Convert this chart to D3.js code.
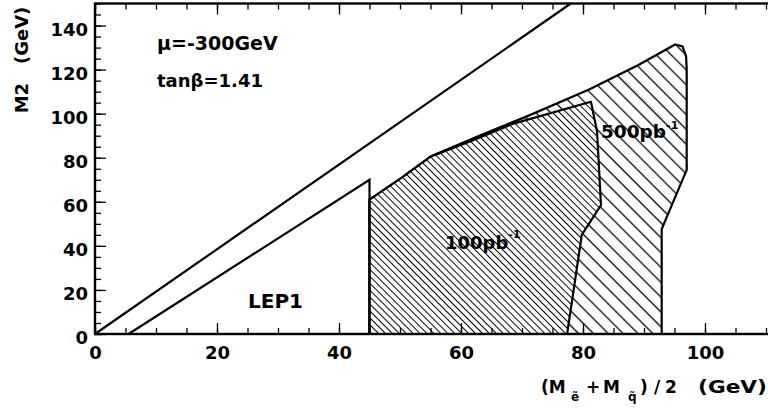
<!DOCTYPE html>
<html>
<head>
<meta charset="utf-8">
<script src="https://cdn.jsdelivr.net/npm/d3@7"></script>
<style>
  body { margin: 0; background: #fff; }
  svg text { font-family: "DejaVu Sans", sans-serif; font-weight: bold; fill: #000; }
  .axis .domain { display: none; }
  .axis line { stroke: #000; stroke-width: 1.3; }
</style>
</head>
<body>
<div id="chart"></div>
<script>
// values (x = (M_e + M_q)/2 in GeV, y = M2 in GeV)
var upperLine = [[0, 0], [78, 150]];
var lep1Edge = [[5.5, 0], [45, 70], [45, 0]];
var region500 = [[45, 0], [45, 61], [50.3, 71], [55, 80.5], [63, 90], [71, 99], [81, 111],
                 [89, 122], [95.1, 131.4], [96.3, 130.6], [96.9, 126], [97, 120], [97, 74.5],
                 [92.9, 47.6], [92.9, 0]];
var region100 = [[45, 0], [45, 61], [50.3, 71], [55, 80.5], [62, 88], [68.6, 95.5], [81.3, 105.4],
                 [82.3, 92], [82.95, 58.5], [79.8, 45], [77.4, 0]];
var xMajor = [0, 20, 40, 60, 80, 100];
var yMajor = [0, 20, 40, 60, 80, 100, 120, 140];
var xMinor = d3.range(0, 111, 5);
var yMinor = d3.range(0, 151, 5);

var svg_width = 768, svg_height = 409;

var svg = d3.select("#chart").append("svg")
            .attr("width", svg_width)
            .attr("height", svg_height);

var x = d3.scaleLinear().domain([0, 110]).range([95, 766]);
var y = d3.scaleLinear().domain([0, 150]).range([334, 3.5]);

// hatch patterns
var defs = svg.append("defs");
function hatch(id, gap, sw) {
  var p = defs.append("pattern")
      .attr("id", id)
      .attr("patternUnits", "userSpaceOnUse")
      .attr("width", gap).attr("height", gap)
      .attr("patternTransform", "rotate(45)");
  p.append("rect").attr("width", gap).attr("height", gap).attr("fill", "#fff");
  p.append("line")
      .attr("x1", 0).attr("y1", gap / 2).attr("x2", gap).attr("y2", gap / 2)
      .attr("stroke", "#000").attr("stroke-width", sw);
}
hatch("h500", 10.5, 1.3);
hatch("h100", 4.9, 1);

var line = d3.line().x(d => x(d[0])).y(d => y(d[1]));

svg.append("path")
   .attr("d", line(region500) + "Z")
   .attr("fill", "url(#h500)")
   .attr("stroke", "#000").attr("stroke-width", 2.2)
   .attr("stroke-linejoin", "round");

svg.append("path")
   .attr("d", line(region100) + "Z")
   .attr("fill", "url(#h100)")
   .attr("stroke", "#000").attr("stroke-width", 2.2)
   .attr("stroke-linejoin", "round");

svg.append("path")
   .attr("d", line(lep1Edge))
   .attr("fill", "none")
   .attr("stroke", "#000").attr("stroke-width", 2.2);

svg.append("path")
   .attr("d", line(upperLine))
   .attr("fill", "none")
   .attr("stroke", "#000").attr("stroke-width", 2.2);

// axes, ticks pointing inwards (right side is cut off in the picture)
function addAxis(axis, tx, ty) {
  return svg.append("g")
     .attr("class", "axis")
     .attr("transform", "translate(" + tx + "," + ty + ")")
     .call(axis);
}

addAxis(d3.axisBottom(x).tickValues(xMinor).tickSize(-6).tickFormat(""), 0, y(0));
addAxis(d3.axisTop(x).tickValues(xMinor).tickSize(-6).tickFormat(""), 0, y(150));
addAxis(d3.axisTop(x).tickValues(xMajor).tickSize(-11).tickFormat(""), 0, y(150));
addAxis(d3.axisLeft(y).tickValues(yMinor).tickSize(-6).tickFormat(""), x(0), 0);

var xAxis = addAxis(d3.axisBottom(x).tickValues(xMajor).tickSize(-11).tickPadding(12), 0, y(0));
xAxis.selectAll("text").style("font-size", "18px");

var yAxis = addAxis(d3.axisLeft(y).tickValues(yMajor).tickSize(-11).tickPadding(7), x(0), 0);
yAxis.selectAll("text").style("font-size", "18px").attr("dy", "0.55em");

// frame, runs past the right edge of the picture
svg.append("rect")
   .attr("x", x(0)).attr("y", y(150))
   .attr("width", x(110) - x(0) + 10).attr("height", y(0) - y(150))
   .attr("fill", "none").attr("stroke", "#000").attr("stroke-width", 2.4);

// axis titles
svg.append("text")
   .attr("transform", "translate(28,60) rotate(-90)")
   .attr("text-anchor", "middle")
   .style("font-size", "18px")
   .attr("xml:space", "preserve")
   .text("M2   (GeV)");

var xt = svg.append("g").style("font-size", "17px");
xt.append("text").attr("x", 541).attr("y", 393).text("(M");
xt.append("text").attr("x", 571).attr("y", 401).style("font-size", "12px").text("\u1EBD");
xt.append("text").attr("x", 586).attr("y", 393).text("+");
xt.append("text").attr("x", 603).attr("y", 393).text("M");
xt.append("text").attr("x", 628).attr("y", 401).style("font-size", "12px").text("q\u0303");
xt.append("text").attr("x", 640).attr("y", 393).text(")");
xt.append("text").attr("x", 654).attr("y", 393).text("/");
xt.append("text").attr("x", 665).attr("y", 393).text("2");
xt.append("text").attr("x", 698).attr("y", 393)
  .attr("textLength", 69).attr("lengthAdjust", "spacingAndGlyphs").text("(GeV)");

// annotations
svg.append("text").attr("x", 157).attr("y", 50).style("font-size", "19px").text("\u03BC=-300GeV");
svg.append("text").attr("x", 157).attr("y", 87).style("font-size", "18px").text("tan\u03B2=1.41");
svg.append("text").attr("x", 248).attr("y", 308).style("font-size", "20px").text("LEP1");

var l100 = svg.append("text").attr("x", 445).attr("y", 249).style("font-size", "18px");
l100.append("tspan").text("100pb");
l100.append("tspan").attr("dy", -11).style("font-size", "11px").text("-1");

var l500 = svg.append("text").attr("x", 601).attr("y", 138).style("font-size", "18.5px");
l500.append("tspan").text("500pb");
l500.append("tspan").attr("dy", -9).style("font-size", "11px").text("-1");
</script>
</body>
</html>
